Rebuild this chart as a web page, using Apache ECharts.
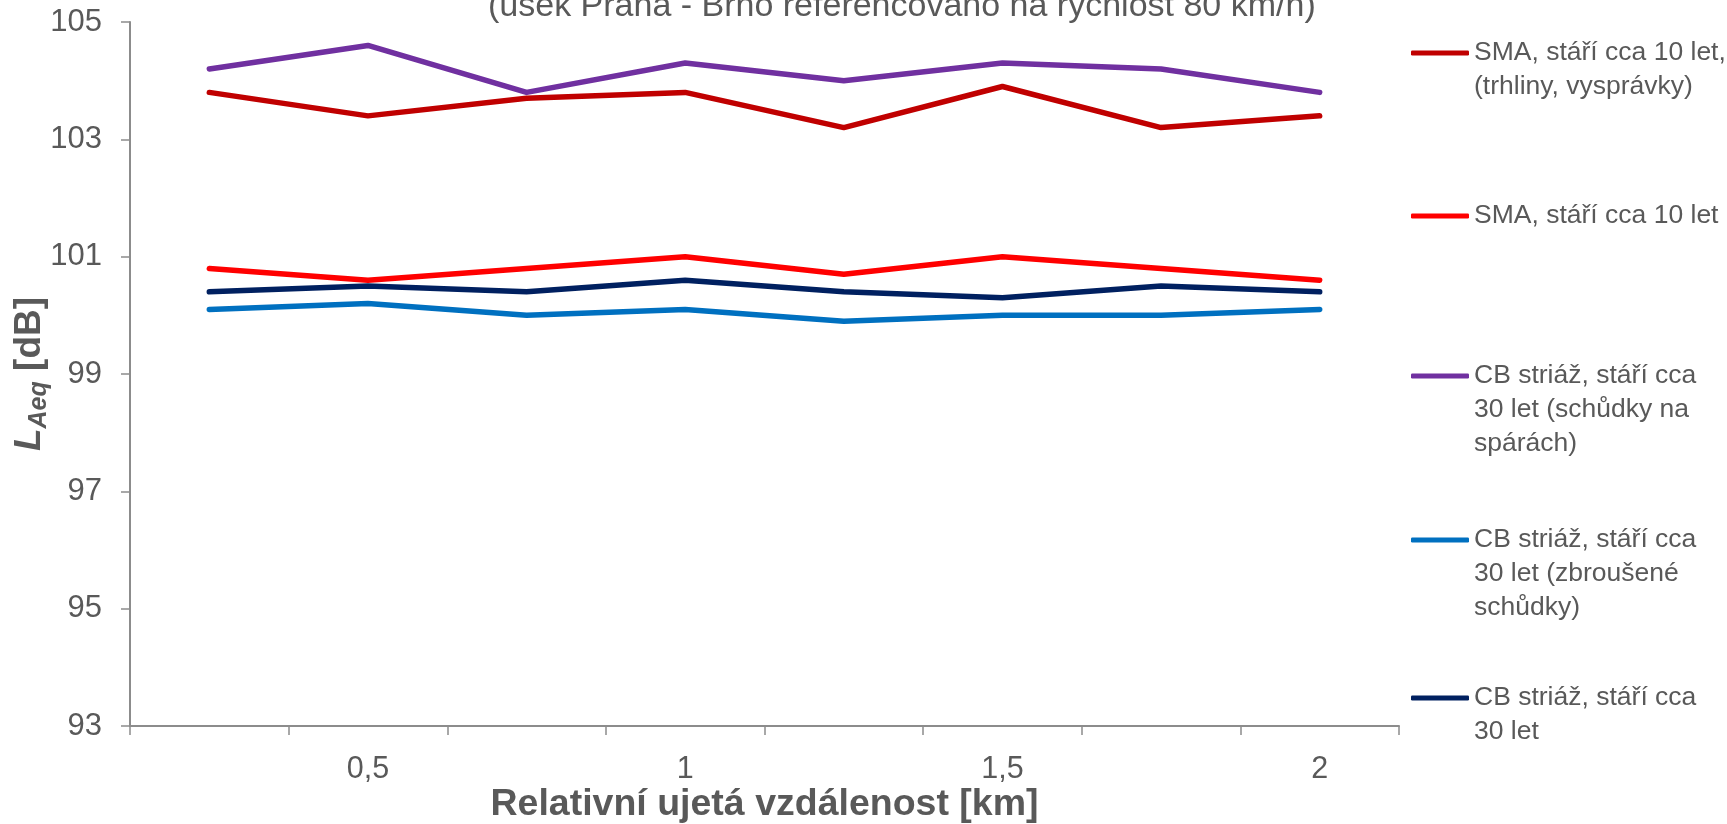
<!DOCTYPE html>
<html>
<head>
<meta charset="utf-8">
<script src="https://cdn.jsdelivr.net/npm/echarts@6/dist/echarts.min.js"></script>
<style>
html,body{margin:0;padding:0;background:#fff;}
#chart{width:1727px;height:824px;}
</style>
</head>
<body>
<div id="chart"></div>
<script>
// ---- data ----
const categories = ['0,25', '0,5', '0,75', '1', '1,25', '1,5', '1,75', '2'];
const seriesNames = [
  'SMA, stáří cca 10 let, (trhliny, vysprávky)',
  'SMA, stáří cca 10 let',
  'CB striáž, stáří cca 30 let (schůdky na spárách)',
  'CB striáž, stáří cca 30 let (zbroušené schůdky)',
  'CB striáž, stáří cca 30 let'
];
const legendLabels = [
  'SMA, stáří cca 10 let,\n(trhliny, vysprávky)',
  'SMA, stáří cca 10 let',
  'CB striáž, stáří cca\n30 let (schůdky na\nspárách)',
  'CB striáž, stáří cca\n30 let (zbroušené\nschůdky)',
  'CB striáž, stáří cca\n30 let'
];
const smaCracked = [103.8, 103.4, 103.7, 103.8, 103.2, 103.9, 103.2, 103.4];
const sma = [100.8, 100.6, 100.8, 101.0, 100.7, 101.0, 100.8, 100.6];
const cbSteps = [104.2, 104.6, 103.8, 104.3, 104.0, 104.3, 104.2, 103.8];
const cbGround = [100.1, 100.2, 100.0, 100.1, 99.9, 100.0, 100.0, 100.1];
const cb = [100.4, 100.5, 100.4, 100.6, 100.4, 100.3, 100.5, 100.4];
const yTicks = [93, 95, 97, 99, 101, 103, 105];
const titleText = '(úsek Praha - Brno referencováno na rychlost 80 km/h)';
const xAxisName = 'Relativní ujetá vzdálenost [km]';

// ---- styles ----
const values = [smaCracked, sma, cbSteps, cbGround, cb];
const colors = ['#C00000', '#FF0000', '#7030A0', '#0070C0', '#002060'];
const legendIconY = [53, 216, 376, 540, 698];
const FONT = '"Liberation Sans", Arial, sans-serif';
const TXT = '#595959';
const AX = '#8c8c8c';
const LH = 34;
const ICON_H = 5;

const chart = echarts.init(document.getElementById('chart'), null, {renderer: 'canvas'});

const legends = seriesNames.map((n, i) => {
  const lines = legendLabels[i].split('\n').length;
  const txt = '\n'.repeat(lines - 1) + legendLabels[i];
  return {
    data: [{name: n, icon: 'roundRect'}],
    orient: 'vertical',
    left: 1411,
    top: legendIconY[i] - (2 * lines - 1) * LH / 2,
    padding: 0,
    itemWidth: 58,
    itemHeight: ICON_H,
    itemStyle: {borderWidth: 0},
    formatter: () => txt,
    textStyle: {fontFamily: FONT, fontSize: 26.5, color: TXT, lineHeight: LH}
  };
});

const option = {
  backgroundColor: '#fff',
  animation: false,
  title: {
    text: titleText,
    left: 488,
    top: -10,
    padding: 0,
    textStyle: {fontFamily: FONT, fontSize: 34, fontWeight: 'normal', color: TXT}
  },
  legend: legends,
  grid: {left: 130, right: 328, top: 22, bottom: 98, containLabel: false, outerBoundsMode: 'none'},
  xAxis: {
    type: 'category',
    data: categories,
    boundaryGap: true,
    name: xAxisName,
    nameLocation: 'middle',
    nameGap: 60,
    nameMoveOverlap: false,
    nameTextStyle: {fontFamily: FONT, fontSize: 37.5, fontWeight: 'bold', color: TXT},
    axisLine: {show: true, lineStyle: {color: AX, width: 2}},
    axisTick: {show: true, interval: 0, length: 9, lineStyle: {color: AX, width: 1.5}},
    axisLabel: {
      interval: (i) => i % 2 === 1,
      margin: 28,
      fontFamily: FONT, fontSize: 30.5, color: TXT
    },
    splitLine: {show: false}
  },
  yAxis: {
    type: 'value',
    min: yTicks[0],
    max: yTicks[yTicks.length - 1],
    interval: 2,
    name: '{l|L}{s|Aeq}{n| [dB]}',
    nameLocation: 'middle',
    nameGap: 78,
    nameMoveOverlap: false,
    nameTextStyle: {
      color: TXT,
      rich: {
        l: {fontFamily: FONT, fontSize: 37, fontWeight: 'bold', fontStyle: 'italic', color: TXT, lineHeight: 44},
        s: {fontFamily: FONT, fontSize: 25, fontWeight: 'bold', fontStyle: 'italic', color: TXT, verticalAlign: 'bottom', lineHeight: 26},
        n: {fontFamily: FONT, fontSize: 37, fontWeight: 'bold', color: TXT, lineHeight: 44}
      }
    },
    axisLine: {show: true, lineStyle: {color: AX, width: 2}},
    axisTick: {show: true, length: 9, lineStyle: {color: AX, width: 1.5}},
    axisLabel: {margin: 28, fontFamily: FONT, fontSize: 31, color: TXT},
    splitLine: {show: false}
  },
  series: seriesNames.map((n, i) => ({
    name: n,
    type: 'line',
    data: values[i],
    showSymbol: false,
    symbol: 'none',
    lineStyle: {color: colors[i], width: 5.5, cap: 'round', join: 'round'},
    itemStyle: {color: colors[i]}
  }))
};
chart.setOption(option);
</script>
</body>
</html>
